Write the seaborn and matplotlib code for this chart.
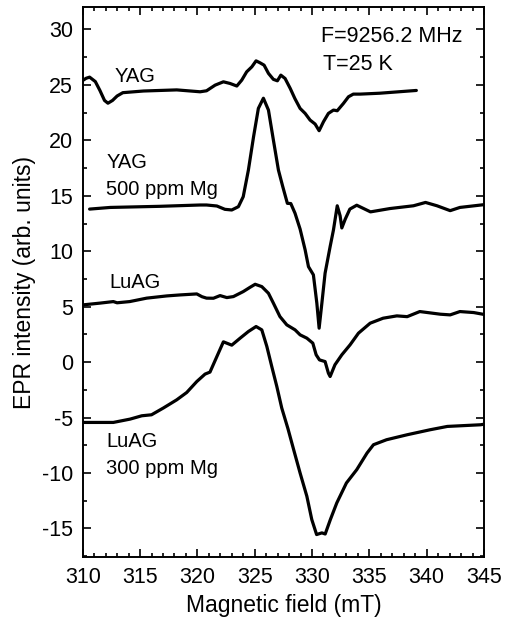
import numpy as np
import pandas as pd
import seaborn as sns
import matplotlib.pyplot as plt
from matplotlib.ticker import MultipleLocator

# Dados (campo em mT, intensidade EPR)
yag_x = [310.0, 310.3, 310.6, 311.1, 311.5, 311.9, 312.2, 312.6, 313.0, 313.5,
         315.3, 318.2, 320.24, 320.8, 321.55, 322.27, 322.85, 323.44, 323.87, 324.3,
         324.75, 325.12, 325.47, 325.82, 326.2, 326.63, 326.98, 327.28, 327.65, 328.1,
         328.5, 328.96, 329.4, 329.83, 330.27, 330.62, 331.0, 331.43, 331.87, 332.2,
         332.74, 333.18, 333.6, 334.2, 335.9, 339.1]
yag_y = [25.4, 25.6, 25.7, 25.3, 24.5, 23.6, 23.35, 23.6, 24.0, 24.3,
         24.45, 24.55, 24.38, 24.47, 24.98, 25.28, 25.13, 24.9, 25.43, 26.18,
         26.63, 27.17, 26.99, 26.78, 26.04, 25.5, 25.37, 25.88, 25.58, 24.68,
         23.78, 22.88, 22.43, 21.83, 21.47, 20.87, 21.68, 22.43, 22.73, 22.67,
         23.33, 23.93, 24.17, 24.17, 24.25, 24.5]

yag_mg_x = [310.6, 312.4, 316.7, 320.24, 320.8, 321.7, 322.4, 323.0, 323.58, 324.0,
            324.45, 324.9, 325.32, 325.76, 326.2, 326.63, 327.07, 327.45, 327.85, 328.15,
            328.52, 328.96, 329.4, 329.69, 330.12, 330.42, 330.62, 330.86, 331.14, 331.58,
            331.87, 332.2, 332.45, 332.6, 332.9, 333.3, 333.9, 335.1, 336.8, 338.85,
            339.9, 340.9, 342.05, 342.9, 345.0]
yag_mg_y = [13.8, 13.95, 14.05, 14.17, 14.17, 14.08, 13.78, 13.72, 14.02, 14.92,
            17.32, 20.32, 22.88, 23.8, 22.73, 20.03, 17.32, 15.82, 14.32, 14.3,
            13.42, 12.0, 10.12, 8.61, 7.87, 5.32, 3.06, 5.32, 8.02, 10.42,
            11.92, 14.1, 13.2, 12.1, 12.9, 13.8, 14.15, 13.55, 13.85, 14.1,
            14.4, 14.1, 13.66, 13.95, 14.2]

luag_x = [310.0, 311.5, 312.67, 313.0, 314.1, 315.58, 317.33, 318.5, 319.95, 320.4,
          320.8, 321.4, 321.98, 322.57, 323.14, 324.0, 324.6, 325.04, 325.62, 326.2,
          326.63, 327.2, 327.8, 328.52, 328.96, 329.55, 330.07, 330.36, 330.65, 331.14,
          331.43, 331.58, 332.0, 332.6, 333.32, 334.05, 335.07, 336.2, 337.4, 338.3,
          339.4, 341.2, 342.05, 342.9, 344.1, 345.0]
luag_y = [5.16, 5.32, 5.46, 5.35, 5.46, 5.77, 5.97, 6.06, 6.15, 5.9,
          5.77, 5.76, 6.0, 5.82, 5.91, 6.36, 6.75, 7.02, 6.81, 6.21,
          5.32, 4.11, 3.36, 2.91, 2.46, 2.16, 1.71, 0.66, 0.2, 0.05,
          -1.0, -1.3, -0.24, 0.66, 1.56, 2.61, 3.51, 3.96, 4.17, 4.1,
          4.56, 4.32, 4.26, 4.56, 4.47, 4.3]

luag_mg_x = [310.0, 312.67, 314.13, 315.15, 316.0, 317.03, 318.2, 319.07, 319.95, 320.67,
             321.1, 321.7, 322.27, 323.0, 323.73, 324.45, 325.12, 325.62, 326.06, 326.49,
             326.93, 327.36, 327.9, 328.4, 328.96, 329.55, 329.98, 330.4, 330.86, 331.15,
             331.6, 332.16, 333.0, 333.9, 334.8, 335.36, 336.5, 338.3, 340.3, 341.8,
             344.7, 345.0]
luag_mg_y = [-5.44, -5.44, -5.14, -4.84, -4.75, -4.14, -3.4, -2.74, -1.75, -1.08,
             -0.9, 0.5, 1.83, 1.53, 2.16, 2.76, 3.21, 2.91, 1.41, -0.4,
             -2.2, -4.14, -6.0, -7.9, -10.0, -12.1, -14.2, -15.55, -15.4, -15.5,
             -14.2, -12.7, -10.9, -9.7, -8.2, -7.45, -7.0, -6.55, -6.1, -5.8,
             -5.65, -5.6]

sns.set_style("ticks")
plt.rcParams['font.family'] = ['Liberation Sans', 'DejaVu Sans']
plt.rcParams['axes.unicode_minus'] = False
for k in ['text.color', 'axes.labelcolor', 'xtick.color', 'ytick.color', 'axes.edgecolor']:
    plt.rcParams[k] = 'black'

fig = plt.figure(figsize=(5.05, 6.23), dpi=100)
ax = fig.add_axes([0.1638, 0.1055, 0.7946, 0.8828])

curvas = [(yag_x, yag_y), (yag_mg_x, yag_mg_y), (luag_x, luag_y), (luag_mg_x, luag_mg_y)]
for cx, cy in curvas:
    df = pd.DataFrame({'campo': cx, 'sinal': cy})
    sns.lineplot(data=df, x='campo', y='sinal', ax=ax, color='black', lw=2.3,
                 sort=False, estimator=None)

ax.set_xlim(310, 345)
ax.set_ylim(-17.6, 32)
ax.xaxis.set_major_locator(MultipleLocator(5))
ax.xaxis.set_minor_locator(MultipleLocator(1))
ax.yaxis.set_major_locator(MultipleLocator(5))
ax.yaxis.set_minor_locator(MultipleLocator(2.5))
ax.tick_params(which='both', direction='in', top=True, right=True, width=1.2)
ax.tick_params(which='major', length=6, labelsize=15.5, pad=7)
ax.tick_params(which='minor', length=3)
for s in ax.spines.values():
    s.set_linewidth(1.4)

ax.set_xlabel('Magnetic field (mT)', fontsize=16.5, labelpad=4)
ax.set_ylabel('EPR intensity (arb. units)', fontsize=16.5, labelpad=4)

txt = dict(fontsize=14.5, va='center', ha='left')
ax.text(312.8, 25.8, 'YAG', **txt)
ax.text(312.05, 18.0, 'YAG', **txt)
ax.text(312.05, 15.6, '500 ppm Mg', **txt)
ax.text(312.3, 7.2, 'LuAG', **txt)
ax.text(312.05, -7.2, 'LuAG', **txt)
ax.text(312.05, -9.6, '300 ppm Mg', **txt)
ax.text(330.8, 29.4, 'F=9256.2 MHz', fontsize=15.5, va='center', ha='left')
ax.text(330.95, 26.8, 'T=25 K', fontsize=15.5, va='center', ha='left')

fig.savefig('out.png', dpi=100)
